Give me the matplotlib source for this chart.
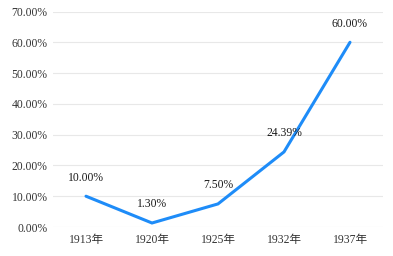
import matplotlib.pyplot as plt
import numpy as np

years = ['1913年', '1920年', '1925年', '1932年', '1937年']
rates = [10.00, 1.30, 7.50, 24.39, 60.00]
yticks = [0, 10, 20, 30, 40, 50, 60, 70]

plt.rcParams['font.family'] = ['Liberation Serif', 'Noto Sans CJK SC']

fig = plt.figure(figsize=(3.93, 2.56), dpi=100)
ax = fig.add_axes([53 / 393, 29 / 256, 330 / 393, 215.5 / 256])

x = np.arange(len(years))
ax.plot(x, rates, color='#1e8cf8', lw=2.2, solid_capstyle='round', solid_joinstyle='miter', zorder=3)

for xi, v in zip(x, rates):
    ax.annotate(f'{v:.2f}%', (xi, v), xytext=(0, 9), textcoords='offset points',
                ha='center', va='bottom', fontsize=8.4, color='#1a1a1a')

ax.set_xlim(-0.5, len(years) - 0.5)
ax.set_ylim(0, 70)
ax.set_xticks(x)
ax.set_xticklabels(years)
ax.set_yticks(yticks)
ax.set_yticklabels([f'{t:.2f}%' for t in yticks])
ax.tick_params(length=0, labelsize=8.4, colors='#333333')
ax.tick_params(axis='x', pad=5)
ax.tick_params(axis='y', pad=4)
ax.grid(axis='y', color='#e8e8e8', lw=0.8)
ax.set_axisbelow(True)
for s in ax.spines.values():
    s.set_visible(False)

fig.savefig('out.png', dpi=100)
